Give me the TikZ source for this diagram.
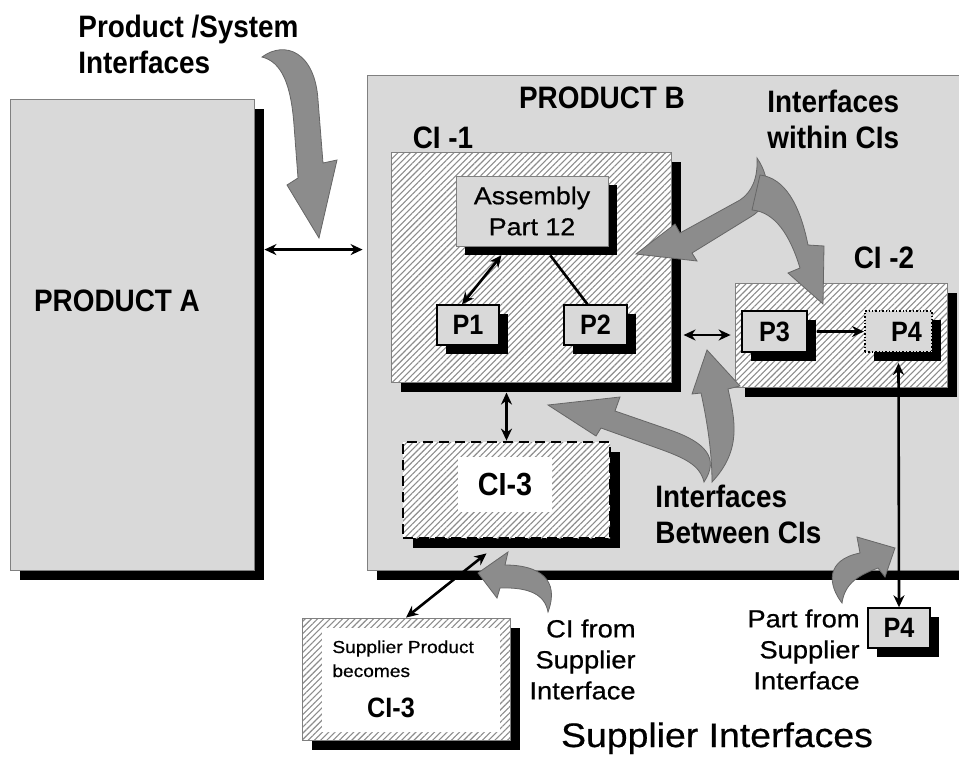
\documentclass[tikz,border=0pt]{standalone}
\usepackage{fontspec}
\setmainfont{Liberation Sans}
\newfontfamily\narrowsans{Liberation Sans}[FakeStretch=0.9]
\newfontfamily\widesans{Liberation Sans}[FakeStretch=1.1, FakeBold=0.6]
\usepackage{tikz}
\usetikzlibrary{positioning, arrows.meta, patterns.meta, shadows, calc}

\begin{document}
\begin{tikzpicture}[x=0.5pt, y=-0.5pt,
			caption/.style={font=\narrowsans\bfseries\fontsize{15.5}{18}\selectfont, inner sep=0pt, align=left},
			remark/.style={font=\widesans\fontsize{12.4}{15.5}\selectfont, inner sep=0pt, align=right},
			dropped/.style={drop shadow={opacity=1, fill=black, shadow xshift=#1, shadow yshift=-#1}},
			dropped/.default=5pt,
			greybox/.style={draw=black!50, line width=0.4pt, fill=black!15, inner sep=0pt},
			hatchbox/.style={draw=black!50, line width=0.4pt, preaction={fill=white}, pattern={Lines[angle=45, distance=2.2pt, line width=0.55pt]}, pattern color=black!45, inner sep=0pt},
			partbox/.style={dropped=4.5pt, greybox, draw=black, line width=0.7pt, minimum width=31pt, minimum height=20pt, font=\narrowsans\bfseries\fontsize{14}{16}\selectfont},
			blockarrow/.style={fill=black!45, draw=black!60, line width=0.4pt},
			twoway/.style={{Stealth[length=6pt,width=5.5pt]}-{Stealth[length=6pt,width=5.5pt]}, line width=1.3pt},
			oneway/.style={-{Stealth[length=6pt,width=5.5pt]}, line width=1.3pt}]
	
	\useasboundingbox (0,0) rectangle (959,756);
	
	\node[dropped, greybox, minimum width=122pt, minimum height=235.5pt] (prodA) at (132,334.5) {};
	\node[dropped, greybox, minimum width=304pt, minimum height=247.5pt] (prodB) at (671,322.5) {};
	
	\node[caption] (labelA) at (117,301) {PRODUCT A};
	\node[caption] (labelB) at (602,98) {PRODUCT B};
	\node[caption, anchor=north west] (labelSystem) at (78,15) {Product /System\\Interfaces};
	\node[caption, anchor=north west] (labelWithin) at (767,90) {Interfaces\\within CIs};
	\node[caption, anchor=north west] (labelBetween) at (655,485) {Interfaces\\Between CIs};
	\node[caption] (labelCI1) at (443,138) {CI -1};
	\node[caption] (labelCI2) at (884,258) {CI -2};
	
	\node[dropped, hatchbox, minimum width=140pt, minimum height=115pt] (ci1) at (531,267) {};
	\node[dropped=4.5pt, greybox, minimum width=76pt, minimum height=35pt, align=center, font=\widesans\fontsize{12.2}{15.5}\selectfont] (asm) at (532,211) {Assembly\\Part 12};
	\node[partbox] (p1) at (468,325) {P1};
	\node[partbox, minimum width=31.5pt] (p2) at (595.5,325) {P2};
	
	\node[dropped, hatchbox, minimum width=106pt, minimum height=52pt] (ci2) at (841,335) {};
	\node[partbox, minimum width=32.5pt, minimum height=20.5pt] (p3) at (774.5,331.5) {P3};
	\node[partbox, densely dotted, line width=1pt, minimum width=33.5pt, minimum height=20.5pt] (p4) at (898.5,331.5) {\hspace*{8pt}P4};
	
	\node[dropped, hatchbox, draw=black, line width=1.4pt, dash pattern=on 5pt off 3pt, minimum width=103.5pt, minimum height=48pt] (ci3) at (506.5,490) {};
	\node[fill=white, inner sep=0pt, minimum width=47pt, minimum height=27.5pt, font=\narrowsans\bfseries\fontsize{16}{18}\selectfont] (ci3label) at (505,484.5) {CI-3};
	
	\node[dropped, hatchbox, minimum width=104pt, minimum height=61pt] (sup) at (406,679) {};
	\node[fill=white, inner sep=0pt, minimum width=89pt, minimum height=52pt] (supinner) at (411,680) {};
	\node[font=\widesans\fontsize{8.7}{12}\selectfont, inner sep=0pt, align=left, anchor=north west] (suptext) at (332,640) {Supplier Product\\becomes};
	\node[font=\narrowsans\bfseries\fontsize{14}{16}\selectfont, inner sep=0pt, anchor=base] (supci3) at (391,717) {CI-3};
	
	\node[partbox] (p4sup) at (899,628) {P4};
	
	\node[remark, anchor=north east] (noteCI) at (636,619) {CI from\\Supplier\\Interface};
	\node[remark, anchor=north east] (notePart) at (860,609) {Part from\\Supplier\\Interface};
	\node[font=\widesans\fontsize{17}{20}\selectfont, inner sep=0pt, anchor=base] (supIf) at (717,747) {Supplier Interfaces};
	
	\draw[twoway] ([xshift=5pt]$(prodA.north east)!.32!(prodA.south east)$) coordinate (ab) -- ([xshift=-2pt]ab -| prodB.west);
	\draw[twoway] ([yshift=-4.5pt]$(asm.south west)!.3!(asm.south east)$) -- ([xshift=-3pt]p1.north);
	\draw[line width=1.3pt] ([yshift=-4.5pt]$(asm.south west)!.62!(asm.south east)$) -- ([xshift=-4pt]p2.north);
	\draw[twoway] ([xshift=6pt]ci1.east |- ci2.west) -- ([xshift=-2pt]ci2.west);
	\draw[oneway] ([xshift=4.5pt]p3.east) -- (p4.west);
	\draw[twoway] ([yshift=-5pt]p4.south) -- (p4sup.north);
	\draw[twoway] ([yshift=-5pt]ci3.north |- ci1.south) -- (ci3.north);
	\draw[twoway] (sup.north) -- ([xshift=-10pt,yshift=-7pt]ci3.south);
	
	\filldraw[blockarrow] (262,57) .. controls (285,40) and (315,52) .. (318,100) -- (323,163) -- (337,160) -- (319,238) -- (287,185) -- (298,178) -- (294,125) .. controls (291,85) and (282,62) .. cycle;
	\filldraw[blockarrow] (757,158) .. controls (772,180) and (770,205) .. (752,216) -- (692,253) -- (697,261) -- (636,254) -- (675,224) -- (680,233) -- (740,200) .. controls (752,192) and (758,178) .. cycle;
	\filldraw[blockarrow] (760,175) .. controls (785,178) and (800,205) .. (808,245) -- (824,246) -- (823,304) -- (788,273) -- (800,268) .. controls (790,235) and (775,212) .. (752,210) -- cycle;
	\filldraw[blockarrow] (548,405) -- (620,397) -- (615,411) -- (670,430) .. controls (705,442) and (720,458) .. (704,482) .. controls (700,465) and (685,458) .. (657,448) -- (601,428) -- (596,436) -- cycle;
	\filldraw[blockarrow] (707,350) -- (740,386) -- (728,389) .. controls (735,420) and (742,450) .. (712,482) .. controls (712,455) and (708,425) .. (701,393) -- (692,394) -- cycle;
	\filldraw[blockarrow] (478,573) -- (508,552) -- (505,565) .. controls (540,565) and (560,580) .. (548,612) .. controls (545,595) and (530,587) .. (500,588) -- (497,598) -- cycle;
	\filldraw[blockarrow] (895,548) -- (885,577) -- (878,568) .. controls (860,575) and (845,582) .. (842,603) .. controls (828,585) and (825,560) .. (860,553) -- (857,537) -- cycle;
\end{tikzpicture}
\end{document}
